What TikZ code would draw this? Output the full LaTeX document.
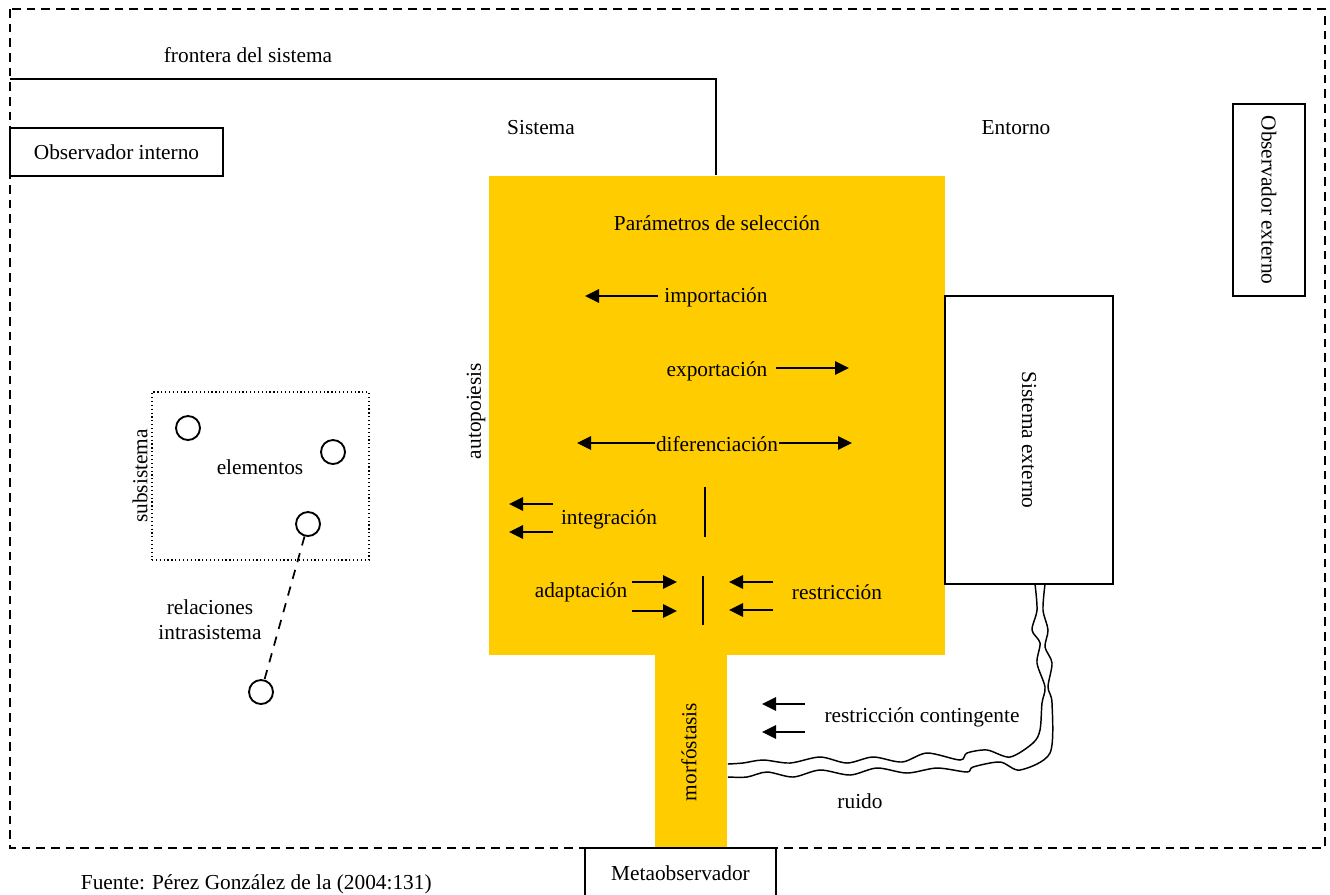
\documentclass[tikz,border=0pt]{standalone}
\usepackage{fontspec}
\setmainfont{Liberation Serif}
\usetikzlibrary{arrows.meta}
\definecolor{amarillo}{HTML}{FFCC00}

\begin{document}
\begin{tikzpicture}[x=0.75pt,y=-0.75pt,
  font=\fontsize{16}{19}\selectfont, line width=1.4pt,
  caja/.style={draw, line width=1.4pt, fill=white, inner sep=0pt},
  flecha/.style={-{Triangle[length=10.5pt,width=10pt]}, line width=1.4pt},
  elem/.style={circle, draw, minimum size=18pt, inner sep=0pt, line width=1.4pt},
  txt/.style={inner sep=0pt},
  ondulada/.style={line width=1.1pt, smooth, tension=0.5}]
\useasboundingbox (0,0) rectangle (1330,894);
\clip (0,0) rectangle (1330,894);

% the system in yellow: body and stem
\node[fill=amarillo, minimum width=342pt, minimum height=359.25pt, inner sep=0pt] (sistema) at (717,415.5) {};
\node[fill=amarillo, minimum width=54pt, minimum height=144.75pt, inner sep=0pt] (tallo) at (691,751.5) {};
\node[txt, rotate=90] (morf) at (689,752) {morfóstasis};

% environment border
\draw[dash pattern=on 6.5pt off 4.5pt, line width=1.5pt] (10,9) rectangle (1325,848);

% system boundary
\coordinate (fa) at (10,79);
\coordinate (fb) at (716,79);
\draw (fa) -- (fb) -- (fb |- sistema.north);
\node[txt] (frontera) at (248,55) {frontera del sistema};
\node[txt] (lsist) at (541,128) {Sistema};
\node[txt] (lent) at (1016,128) {Entorno};

% observers
\node[caja, minimum width=159.75pt, minimum height=36pt] (obsint) at (116.5,152) {Observador interno};
\node[caja, rotate=-90, minimum width=144pt, minimum height=54pt] (obsext) at (1269,200) {Observador externo};
\node[caja, minimum width=143.25pt, minimum height=38pt] (meta) at (680.5,873) {Metaobservador};

% external system
\node[caja, rotate=-90, minimum width=216pt, minimum height=126pt] (sext) at (1029,440) {Sistema externo};

% inside the system
\node[txt] (param) at (717,223) {Parámetros de selección};
\node[txt] (imp) at (716,297) {importación};
\coordinate (impf) at (585,296);
\draw[flecha] ([xshift=-4pt]imp.west |- impf) -- (impf);

\node[txt] (exp) at (717,371) {exportación};
\coordinate (expf) at (849,368);
\draw[flecha] ([xshift=6pt]exp.east |- expf) -- (expf);

\node[txt] (dif) at (717,444) {diferenciación};
\coordinate (difl) at (577,443);
\coordinate (difr) at (852,443);
\draw[flecha] (dif.west |- difl) -- (difl);
\draw[flecha] (dif.east |- difr) -- (difr);

\node[txt] (integ) at (609,519) {integración};
\coordinate (ia1) at (553,504); \coordinate (ib1) at (509,504);
\coordinate (ia2) at (553,532); \coordinate (ib2) at (509,532);
\draw[flecha] (ia1) -- (ib1);
\draw[flecha] (ia2) -- (ib2);
\coordinate (v1a) at (705,487); \coordinate (v1b) at (705,537);
\draw (v1a) -- (v1b);

\node[txt] (adapt) at (581,592) {adaptación};
\coordinate (aa1) at (632,582); \coordinate (ab1) at (677,582);
\coordinate (aa2) at (632,611); \coordinate (ab2) at (677,611);
\draw[flecha] (aa1) -- (ab1);
\draw[flecha] (aa2) -- (ab2);
\coordinate (v2a) at (703,576); \coordinate (v2b) at (703,625);
\draw (v2a) -- (v2b);
\node[txt] (restr) at (837,592) {restricción};
\coordinate (ra1) at (773,582); \coordinate (rb1) at (729,582);
\coordinate (ra2) at (773,610); \coordinate (rb2) at (729,610);
\draw[flecha] (ra1) -- (rb1);
\draw[flecha] (ra2) -- (rb2);

\node[txt, rotate=90] (autop) at (476,411) {autopoiesis};

% subsystem and its elements
\node[draw, dotted, line width=0.9pt, minimum width=162.75pt, minimum height=126pt, inner sep=0pt] (subs) at (260.5,476) {};
\node[txt, rotate=90] (lsubs) at (140,476) {subsistema};
\node[elem] (e1) at (188,428) {};
\node[elem] (e2) at (333,452) {};
\node[elem] (e3) at (308,524) {};
\node[elem] (e4) at (261,692) {};
\node[txt] (lelem) at (260,467) {elementos};
\draw[dash pattern=on 7pt off 6pt, line width=1.3pt] (e3) -- (e4);
\node[txt, align=center] (lrel) at (210,620) {relaciones\\intrasistema};

% contingent restriction
\node[txt] (rcont) at (922,717) {restricción contingente};
\coordinate (ca1) at (805,704); \coordinate (cb1) at (762,704);
\coordinate (ca2) at (805,732); \coordinate (cb2) at (762,732);
\draw[flecha] (ca1) -- (cb1);
\draw[flecha] (ca2) -- (cb2);

% noise channel between the external system and the stem
\coordinate (ru1) at (tallo.east |- 0,764);
\coordinate (ru2) at (tallo.east |- 0,777);
\coordinate (rs1) at (1035,584);
\coordinate (rs2) at (1045,584);
\draw[ondulada] plot coordinates {(ru1) (743,763) (763,760) (790,763) (820,757) (847,763) (873,757) (902,762) (927,753) (960,760) (967,753) (987,750) (1010,757) (1033,743) (1040,730) (1042,703) (1045,687) (1037,663) (1040,643) (1032,630) (1037,610) (rs1)};
\draw[ondulada] plot coordinates {(ru2) (747,777) (767,772) (793,777) (820,770) (850,775) (877,768) (907,773) (937,768) (967,772) (973,767) (1000,762) (1020,770) (1050,753) (1052,703) (1048,687) (1052,663) (1045,647) (1048,630) (1043,610) (rs2)};
\node[txt] (ruido) at (860,801) {ruido};

% source line
\node[txt, anchor=base west] (fuente) at (80,889) {Fuente: Pérez González de la (2004:131)};
\end{tikzpicture}
\end{document}
